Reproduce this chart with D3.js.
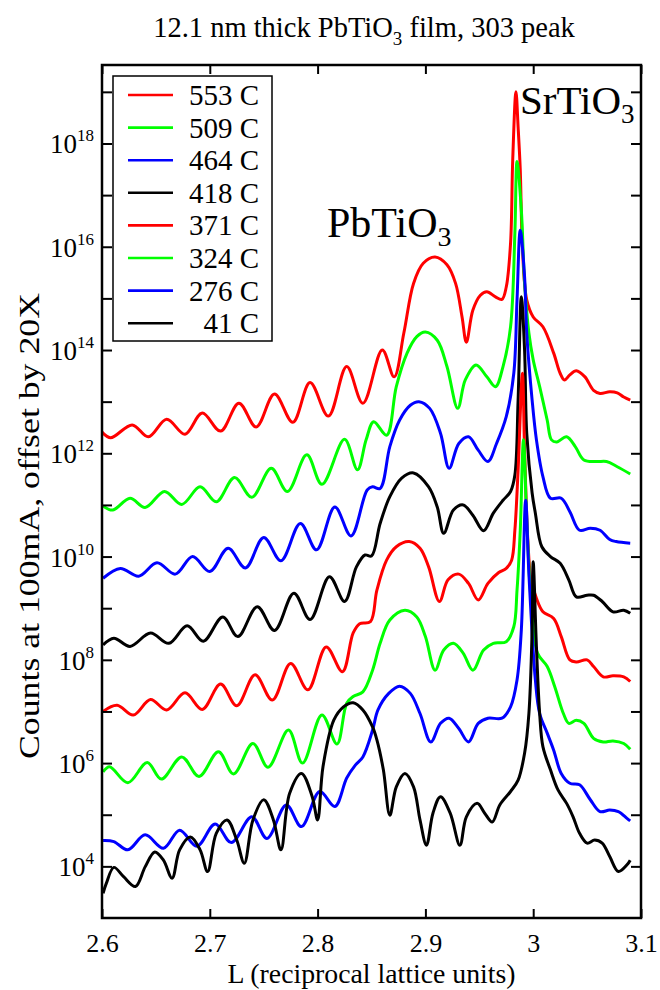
<!DOCTYPE html>
<html><head><meta charset="utf-8">
<script src="https://cdn.jsdelivr.net/npm/d3@7"></script>
<style>
body{margin:0;background:#fff}
svg{display:block}
text{font-family:"Liberation Serif","Times New Roman",serif;fill:#000}
</style>
</head><body>
<svg id="chart" width="660" height="990"></svg>
<script>
// ---- data: [L (r.l.u.), log10(counts)] ----
const legendLabels = ["553 C","509 C","464 C","418 C","371 C","324 C","276 C","41 C"];
const seriesColors = ["#ff0000","#00ff00","#0000ff","#000000","#ff0000","#00ff00","#0000ff","#000000"];

const s553 = [[2.600,12.41],[2.608,12.30],[2.628,12.55],[2.643,12.32],[2.660,12.66],[2.677,12.37],[2.693,12.78],[2.710,12.43],[2.727,12.97],[2.743,12.51],[2.760,13.15],[2.777,12.60],[2.793,13.37],[2.810,12.72],[2.827,13.68],[2.842,12.97],[2.860,14.00],[2.871,13.48],[2.880,14.33],[2.889,15.29],[2.898,15.68],[2.909,15.80],[2.920,15.65],[2.928,15.29],[2.934,14.64],[2.938,14.15],[2.944,14.77],[2.951,15.06],[2.957,15.13],[2.965,15.03],[2.971,14.98],[2.975,15.22],[2.979,16.07],[2.981,17.68],[2.984,19.00],[2.986,18.32],[2.988,17.49],[2.990,15.99],[2.994,14.97],[3.000,14.64],[3.009,14.45],[3.019,13.94],[3.025,13.55],[3.029,13.42],[3.034,13.52],[3.040,13.60],[3.048,13.48],[3.056,13.22],[3.062,13.16],[3.071,13.19],[3.078,13.17],[3.084,13.09],[3.090,13.03]];

const s509 = [[2.601,10.98],[2.610,10.90],[2.626,11.13],[2.640,10.95],[2.658,11.26],[2.674,11.01],[2.691,11.35],[2.706,11.06],[2.723,11.53],[2.739,11.15],[2.757,11.71],[2.772,11.26],[2.790,11.97],[2.804,11.40],[2.825,12.27],[2.837,11.68],[2.845,12.26],[2.852,12.61],[2.864,12.35],[2.873,13.29],[2.883,13.94],[2.892,14.26],[2.900,14.35],[2.911,14.19],[2.920,13.68],[2.930,12.87],[2.937,13.42],[2.947,13.71],[2.957,13.48],[2.965,13.29],[2.972,13.68],[2.979,14.45],[2.983,16.26],[2.985,17.65],[2.989,16.71],[2.992,15.30],[2.996,14.33],[3.000,13.81],[3.006,13.29],[3.013,12.64],[3.017,12.26],[3.022,12.22],[3.031,12.32],[3.039,12.13],[3.047,11.87],[3.059,11.84],[3.068,11.84],[3.078,11.74],[3.090,11.60]];

const s464 = [[2.601,9.58],[2.617,9.77],[2.634,9.62],[2.651,9.88],[2.668,9.66],[2.684,10.00],[2.700,9.71],[2.717,10.16],[2.733,9.78],[2.750,10.37],[2.766,9.92],[2.784,10.64],[2.799,10.13],[2.816,10.96],[2.831,10.40],[2.846,11.29],[2.851,11.35],[2.858,11.32],[2.867,12.13],[2.876,12.64],[2.886,12.93],[2.894,13.00],[2.904,12.87],[2.914,12.39],[2.922,11.71],[2.931,12.19],[2.940,12.32],[2.949,12.06],[2.958,11.84],[2.966,12.19],[2.975,12.71],[2.982,13.55],[2.985,14.97],[2.988,16.32],[2.992,15.42],[2.994,14.33],[2.999,13.03],[3.003,12.26],[3.009,11.55],[3.016,11.13],[3.026,11.13],[3.034,10.87],[3.043,10.51],[3.053,10.55],[3.062,10.51],[3.071,10.33],[3.077,10.29],[3.090,10.26]];

const s418 = [[2.601,8.29],[2.611,8.42],[2.626,8.26],[2.645,8.52],[2.662,8.32],[2.679,8.66],[2.694,8.36],[2.712,8.83],[2.726,8.45],[2.744,9.03],[2.760,8.57],[2.778,9.29],[2.793,8.78],[2.811,9.61],[2.825,9.13],[2.836,9.80],[2.844,10.03],[2.850,10.01],[2.858,10.64],[2.867,11.16],[2.878,11.52],[2.889,11.62],[2.903,11.35],[2.911,10.96],[2.917,10.45],[2.926,10.90],[2.935,11.00],[2.944,10.80],[2.954,10.50],[2.963,10.84],[2.972,11.09],[2.979,11.26],[2.983,11.58],[2.986,13.03],[2.989,15.03],[2.992,14.00],[2.994,12.39],[2.999,11.23],[3.002,10.84],[3.008,10.19],[3.016,10.00],[3.025,9.87],[3.033,9.55],[3.040,9.22],[3.050,9.25],[3.056,9.25],[3.064,9.13],[3.074,8.93],[3.084,8.96],[3.090,8.90]];

const s371 = [[2.601,7.00],[2.614,7.12],[2.629,6.93],[2.645,7.23],[2.660,7.03],[2.677,7.36],[2.693,7.04],[2.710,7.53],[2.725,7.11],[2.742,7.71],[2.758,7.22],[2.775,7.93],[2.791,7.42],[2.808,8.25],[2.823,7.77],[2.833,8.52],[2.839,8.70],[2.849,8.74],[2.855,9.35],[2.864,9.93],[2.873,10.19],[2.885,10.29],[2.895,10.16],[2.903,9.80],[2.913,9.13],[2.921,9.55],[2.931,9.66],[2.940,9.48],[2.949,9.16],[2.958,9.48],[2.968,9.69],[2.975,9.77],[2.980,9.93],[2.983,10.51],[2.986,11.68],[2.990,13.55],[2.992,12.06],[2.995,10.32],[2.998,9.55],[3.003,9.19],[3.009,8.93],[3.019,8.80],[3.026,8.45],[3.034,8.00],[3.040,7.96],[3.050,8.00],[3.056,7.87],[3.065,7.67],[3.074,7.69],[3.084,7.67],[3.090,7.58]];

const s324 = [[2.601,5.83],[2.607,5.93],[2.624,5.62],[2.642,6.01],[2.655,5.69],[2.674,6.12],[2.690,5.74],[2.708,6.22],[2.722,5.79],[2.740,6.38],[2.754,5.92],[2.773,6.64],[2.786,6.00],[2.804,6.93],[2.818,6.37],[2.827,7.16],[2.833,7.29],[2.842,7.38],[2.851,7.80],[2.858,8.32],[2.867,8.77],[2.881,8.96],[2.892,8.83],[2.900,8.45],[2.909,7.80],[2.917,8.19],[2.926,8.32],[2.935,8.13],[2.944,7.80],[2.954,8.19],[2.963,8.32],[2.975,8.35],[2.982,8.64],[2.985,9.35],[2.988,10.51],[2.991,12.26],[2.994,10.71],[2.998,9.16],[3.004,8.13],[3.013,7.87],[3.020,7.48],[3.028,6.96],[3.033,6.77],[3.040,6.83],[3.047,6.77],[3.056,6.48],[3.065,6.41],[3.074,6.43],[3.084,6.38],[3.090,6.27]];

const s276 = [[2.601,4.50],[2.611,4.48],[2.624,4.32],[2.640,4.61],[2.657,4.35],[2.672,4.70],[2.688,4.39],[2.705,4.82],[2.720,4.46],[2.739,4.96],[2.753,4.54],[2.771,5.19],[2.785,4.77],[2.802,5.45],[2.816,5.16],[2.827,5.71],[2.835,5.96],[2.842,6.12],[2.851,6.64],[2.856,7.03],[2.866,7.35],[2.876,7.49],[2.886,7.35],[2.895,6.96],[2.905,6.41],[2.914,6.77],[2.922,6.87],[2.931,6.67],[2.940,6.41],[2.949,6.77],[2.958,6.87],[2.971,6.87],[2.979,7.09],[2.985,7.61],[2.989,8.58],[2.993,11.09],[2.996,9.67],[3.002,7.61],[3.006,6.96],[3.013,6.58],[3.019,6.25],[3.026,5.80],[3.034,5.61],[3.043,5.58],[3.053,5.29],[3.062,5.06],[3.071,5.09],[3.079,5.06],[3.087,4.93],[3.090,4.88]];

const s41 = [[2.601,3.48],[2.604,3.67],[2.611,3.98],[2.620,3.80],[2.631,3.61],[2.640,3.99],[2.649,4.28],[2.657,4.12],[2.665,3.77],[2.672,4.32],[2.682,4.57],[2.691,4.32],[2.698,3.90],[2.706,4.64],[2.716,4.90],[2.725,4.51],[2.732,4.06],[2.740,4.90],[2.750,5.29],[2.759,4.90],[2.766,4.32],[2.774,5.41],[2.785,5.80],[2.795,5.35],[2.800,4.90],[2.805,5.93],[2.815,6.83],[2.824,7.09],[2.833,7.17],[2.842,7.03],[2.851,6.70],[2.855,6.45],[2.861,5.87],[2.867,4.99],[2.873,5.54],[2.881,5.80],[2.889,5.54],[2.895,4.90],[2.901,4.41],[2.907,5.03],[2.914,5.35],[2.923,5.03],[2.932,4.41],[2.938,4.96],[2.948,5.22],[2.955,5.03],[2.962,4.86],[2.969,5.19],[2.979,5.45],[2.986,5.67],[2.992,6.19],[2.996,6.96],[2.999,8.58],[3.000,9.90],[3.003,8.25],[3.006,6.96],[3.009,6.32],[3.016,5.87],[3.023,5.48],[3.031,5.22],[3.037,4.96],[3.043,4.64],[3.050,4.45],[3.057,4.51],[3.064,4.45],[3.071,4.19],[3.079,3.90],[3.087,4.03],[3.090,4.12]];

const allSeries = [s553, s509, s464, s418, s371, s324, s276, s41];

const xTickValues = [2.6, 2.7, 2.8, 2.9, 3.0, 3.1];
const xTickLabels = ["2.6", "2.7", "2.8", "2.9", "3", "3.1"];
const yTickExponents = [4, 5, 6, 7, 8, 9, 10, 11, 12, 13, 14, 15, 16, 17, 18, 19];
const yLabelExponents = [4, 6, 8, 10, 12, 14, 16, 18];

// ---- layout ----
const P = {left: 102, right: 641, top: 65, bottom: 918};
const svg = d3.select("#chart");

const x = d3.scaleLinear().domain([2.6, 3.1]).range([P.left, P.right]);
const y = d3.scaleLog().domain([1e3, Math.pow(10, 19.52)]).range([P.bottom, P.top]);

// title
const title = svg.append("text").attr("x", 364).attr("y", 37)
  .attr("text-anchor", "middle").style("font-size", "28.5px");
title.append("tspan").text("12.1 nm thick PbTiO");
title.append("tspan").attr("dy", 8).style("font-size", "19px").text("3");
title.append("tspan").attr("dy", -8).text(" film, 303 peak");

// clip
svg.append("clipPath").attr("id", "clip").append("rect")
  .attr("x", P.left).attr("y", P.top).attr("width", P.right - P.left).attr("height", P.bottom - P.top);

// curves
const line = d3.line()
  .x(d => x(d[0]))
  .y(d => y(Math.pow(10, d[1])))
  .curve(d3.curveCatmullRom.alpha(0.5));

svg.append("g").attr("clip-path", "url(#clip)")
  .selectAll("path").data(allSeries).join("path")
  .attr("d", line)
  .attr("fill", "none")
  .attr("stroke", (d, i) => seriesColors[i])
  .attr("stroke-width", 3)
  .attr("stroke-linejoin", "round");

// axes (ticks inward)
const tickStyle = g => {
  g.select(".domain").remove();
  g.selectAll(".tick line").attr("stroke", "#000").attr("stroke-width", 2);
};
svg.append("g").attr("transform", `translate(0,${P.bottom})`)
  .call(d3.axisBottom(x).tickValues(xTickValues).tickFormat((d, i) => xTickLabels[i])
    .tickSize(-9).tickSizeOuter(0).tickPadding(16))
  .call(tickStyle)
  .call(g => g.selectAll("text").style("font-size", "26px").style("font-family", "Liberation Serif, serif"));
svg.append("g").attr("transform", `translate(0,${P.top})`)
  .call(d3.axisTop(x).tickValues(xTickValues).tickFormat("").tickSize(-9).tickSizeOuter(0))
  .call(tickStyle);
svg.append("g").attr("transform", `translate(${P.left},0)`)
  .call(d3.axisLeft(y).tickValues(yTickExponents.map(e => Math.pow(10, e))).tickFormat("").tickSize(-10).tickSizeOuter(0))
  .call(tickStyle);
svg.append("g").attr("transform", `translate(${P.right},0)`)
  .call(d3.axisRight(y).tickValues(yTickExponents.map(e => Math.pow(10, e))).tickFormat("").tickSize(-10).tickSizeOuter(0))
  .call(tickStyle);

// y tick labels 10^n
yLabelExponents.forEach(e => {
  const t = svg.append("text").attr("x", 94).attr("y", y(Math.pow(10, e)) + 10)
    .attr("text-anchor", "end").style("font-size", "27px");
  t.append("tspan").text("10");
  t.append("tspan").attr("dy", -12).style("font-size", "17px").text(e);
});

// frame
svg.append("rect").attr("x", P.left).attr("y", P.top)
  .attr("width", P.right - P.left).attr("height", P.bottom - P.top)
  .attr("fill", "none").attr("stroke", "#000").attr("stroke-width", 2.5);

// axis titles
svg.append("text").attr("x", (P.left + P.right) / 2).attr("y", 983)
  .attr("text-anchor", "middle").style("font-size", "27px")
  .attr("textLength", 288).attr("lengthAdjust", "spacingAndGlyphs")
  .text("L (reciprocal lattice units)");
svg.append("text").attr("transform", "translate(39,526) rotate(-90)")
  .attr("text-anchor", "middle").style("font-size", "30px")
  .attr("textLength", 466).attr("lengthAdjust", "spacingAndGlyphs")
  .text("Counts at 100mA, offset by 20X");

// annotations
const ann1 = svg.append("text").attr("x", 327).attr("y", 237).style("font-size", "42px");
ann1.append("tspan").text("PbTiO");
ann1.append("tspan").attr("dy", 9).style("font-size", "28px").text("3");
const ann2 = svg.append("text").attr("x", 520).attr("y", 114).style("font-size", "41px");
ann2.append("tspan").text("SrTiO");
ann2.append("tspan").attr("dy", 9).style("font-size", "27px").text("3");

// legend
const lg = svg.append("g");
lg.append("rect").attr("x", 113).attr("y", 76).attr("width", 159).attr("height", 265)
  .attr("fill", "#fff").attr("stroke", "#000").attr("stroke-width", 1.5);
legendLabels.forEach((lab, i) => {
  const yy = 95 + i * 32.6;
  lg.append("line").attr("x1", 128).attr("x2", 173).attr("y1", yy).attr("y2", yy)
    .attr("stroke", seriesColors[i]).attr("stroke-width", 2.6);
  lg.append("text").attr("x", 259).attr("y", yy + 10).attr("text-anchor", "end")
    .style("font-size", "29px").text(lab);
});
</script>
</body></html>
